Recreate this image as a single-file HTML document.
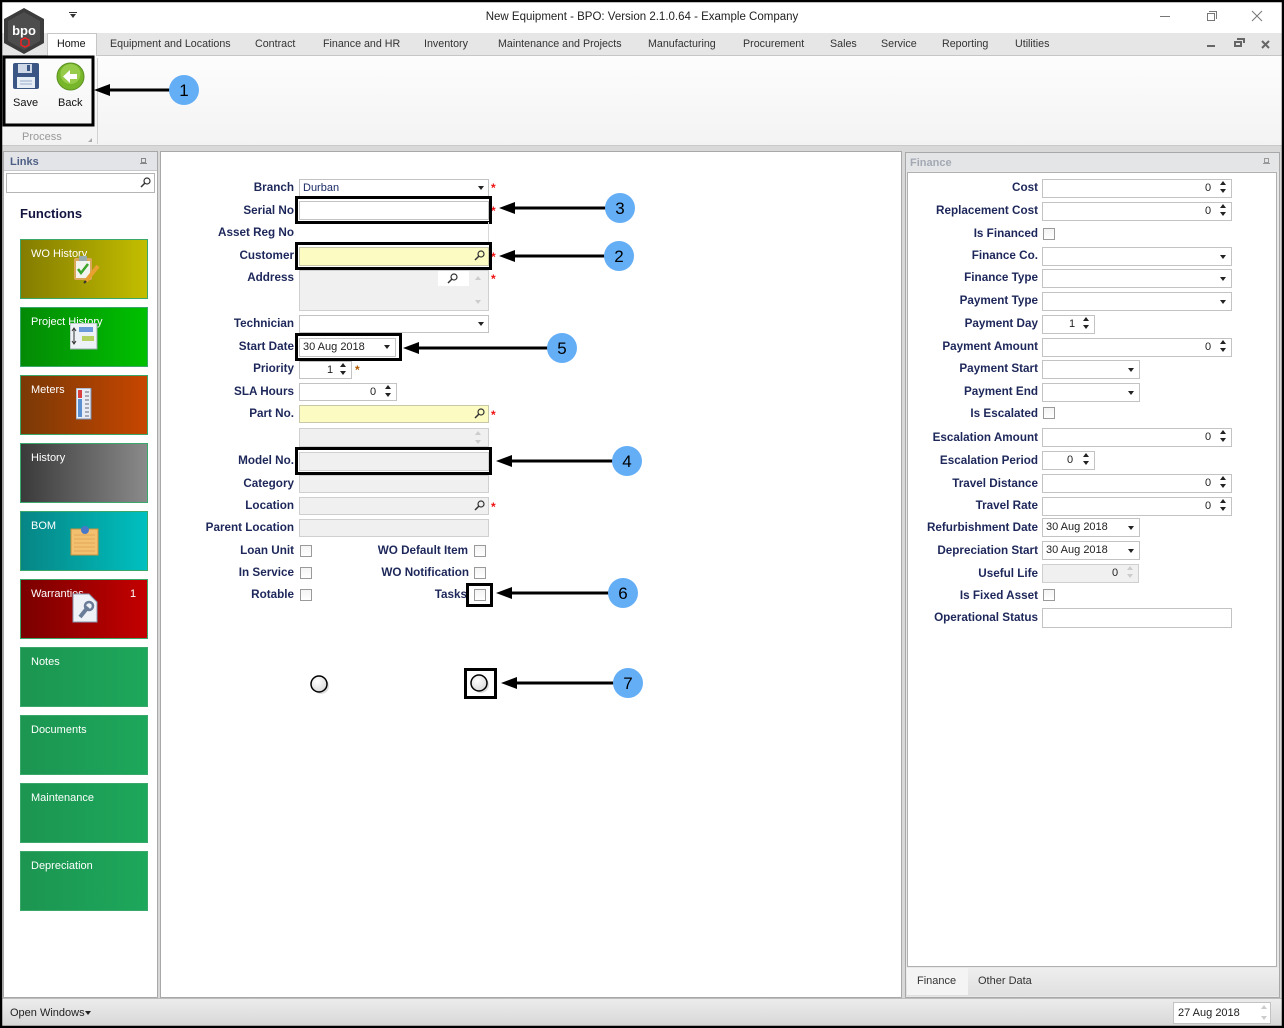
<!DOCTYPE html>
<html><head><meta charset="utf-8">
<style>
*{margin:0;padding:0;box-sizing:border-box}
html,body{width:1284px;height:1028px;overflow:hidden;background:#d8d8d8;font-family:"Liberation Sans",Arial,sans-serif}
.a{position:absolute}
.t{position:absolute;font-size:11px;color:#333;white-space:nowrap;line-height:14px}
.lb{position:absolute;font-size:11.7px;font-weight:bold;color:#1d275a;white-space:nowrap;line-height:14px;text-align:right}
.lc{left:150px;width:144px}
.lr{left:900px;width:138px}
.in{position:absolute;border:1px solid #c3c3c3;background:#fff}
.gr{background:#f0f0f0;border-color:#cfcfcf}
.ye{background:#fcfbc2;border-color:#c8c8a8}
.dd{position:absolute;width:0;height:0;border-left:3.5px solid transparent;border-right:3.5px solid transparent;border-top:4px solid #222}
.su{position:absolute;width:0;height:0;border-left:3.5px solid transparent;border-right:3.5px solid transparent;border-bottom:4px solid #222}
.sd{position:absolute;width:0;height:0;border-left:3.5px solid transparent;border-right:3.5px solid transparent;border-top:4px solid #222}
.cb{position:absolute;width:12px;height:12px;border:1px solid #9a9a9a;background:linear-gradient(#f4f4f4,#fff)}
.ast{position:absolute;color:#ee1111;font-size:12px;font-weight:bold;line-height:12px}
.box{position:absolute;border:3px solid #000}
.tile{position:absolute;left:20px;width:128px;height:60px;border:1px solid #3aa86a}
.tile span{position:absolute;left:10px;top:8px;color:#fff;font-size:11px;white-space:nowrap}
.tab{position:absolute;top:38px;font-size:10.7px;color:#333;white-space:nowrap}
.v{position:absolute;font-size:11px;color:#222;line-height:14px;white-space:nowrap}
</style></head><body>

<!-- title bar -->
<div class="a" style="left:0;top:0;width:1284px;height:33px;background:#fff"></div>
<div class="t" style="left:0;width:1284px;top:10px;text-align:center;font-size:11.5px;color:#222">New Equipment - BPO: Version 2.1.0.64 - Example Company</div>
<div class="dd" style="left:70px;top:14px;border-top-color:#333"></div>
<div class="a" style="left:69px;top:12px;width:8px;height:1px;background:#333"></div>
<div class="a" style="left:1160px;top:16px;width:10px;height:1px;background:#777"></div>
<div class="a" style="left:1207px;top:13px;width:8px;height:8px;border:1px solid #777"></div>
<div class="a" style="left:1209px;top:11px;width:8px;height:8px;border-top:1px solid #777;border-right:1px solid #777"></div>
<svg class="a" style="left:1251px;top:10px" width="12" height="12"><path d="M1 1L11 11M11 1L1 11" stroke="#777" stroke-width="1"/></svg>

<!-- tab strip -->
<div class="a" style="left:0;top:33px;width:1284px;height:23px;background:#e6e6e6;border-bottom:1px solid #c6c6c6"></div>
<div class="a" style="left:47px;top:33px;width:50px;height:24px;background:#fff;border:1px solid #c6c6c6;border-bottom:none"></div>
<div class="tab" style="left:57px;color:#111">Home</div>
<div class="tab" style="left:110px">Equipment and Locations</div>
<div class="tab" style="left:255px">Contract</div>
<div class="tab" style="left:323px">Finance and HR</div>
<div class="tab" style="left:424px">Inventory</div>
<div class="tab" style="left:498px">Maintenance and Projects</div>
<div class="tab" style="left:648px">Manufacturing</div>
<div class="tab" style="left:743px">Procurement</div>
<div class="tab" style="left:830px">Sales</div>
<div class="tab" style="left:881px">Service</div>
<div class="tab" style="left:942px">Reporting</div>
<div class="tab" style="left:1015px">Utilities</div>
<div class="a" style="left:1207px;top:45px;width:8px;height:2px;background:#666"></div>
<div class="a" style="left:1234px;top:41px;width:8px;height:6px;border:2px solid #666"></div>
<div class="a" style="left:1237px;top:38px;width:8px;height:5px;border-top:2px solid #666;border-right:2px solid #666"></div>
<svg class="a" style="left:1261px;top:40px" width="9" height="9"><path d="M1 1L8 8M8 1L1 8" stroke="#666" stroke-width="2"/></svg>

<!-- logo -->
<svg class="a" style="left:2px;top:7px" width="44" height="48">
<polygon points="22,1 42,12 42,36 22,47 2,36 2,12" fill="#3c3c3c"/>
<polygon points="22,5 38,14 38,34 22,43 6,34 6,14" fill="#4d4d4d"/>
<text x="22" y="28" font-family="Liberation Sans" font-size="13" font-weight="bold" fill="#fff" text-anchor="middle">bpo</text>
<polygon points="19,33 23,31 27,33 27,38 23,40 19,38" fill="none" stroke="#e22" stroke-width="1.5"/>
</svg>

<!-- ribbon -->
<div class="a" style="left:0;top:56px;width:1284px;height:90px;background:linear-gradient(#fdfdfd,#f3f3f3);border-bottom:1px solid #c9c9c9"></div>
<div class="a" style="left:97px;top:58px;width:1px;height:86px;background:#d2d2d2"></div>
<div class="t" style="left:22px;top:130px;color:#999">Process</div>
<div class="a" style="left:88px;top:138px;width:0;height:0;border-left:4px solid transparent;border-bottom:4px solid #aaa"></div>
<svg class="a" style="left:12px;top:62px" width="28" height="28">
<rect x="1" y="1" width="26" height="26" rx="2" fill="#3b5685"/>
<rect x="6" y="2" width="14" height="9" fill="#cfd8e6"/>
<rect x="15" y="3" width="3" height="6" fill="#3b5685"/>
<rect x="5" y="15" width="18" height="11" fill="#e7edf5"/>
<path d="M8 19H20M8 22H20" stroke="#9aaccc"/>
</svg>
<div class="t" style="left:13px;top:96px;color:#111">Save</div>
<svg class="a" style="left:56px;top:62px" width="29" height="29">
<circle cx="14.5" cy="14.5" r="13.5" fill="#77b52a" stroke="#5a9020"/>
<circle cx="14.5" cy="12" r="10" fill="#96cc4a"/>
<polygon points="7,14.5 14,8 14,12 21,12 21,17 14,17 14,21" fill="#fff"/>
</svg>
<div class="t" style="left:58px;top:96px;color:#111">Back</div>

<!-- left panel -->
<div class="a" style="left:3px;top:151px;width:155px;height:847px;background:#fff;border:1px solid #a8a8a8"></div>
<div class="a" style="left:4px;top:152px;width:153px;height:19px;background:#e3e4e7;border-bottom:1px solid #c8c8c8"></div>
<div class="t" style="left:10px;top:155px;font-weight:bold;color:#4e5f85">Links</div>
<div class="a" style="left:141px;top:158px;width:5px;height:5px;border:1px solid #888"></div>
<div class="a" style="left:140px;top:163px;width:7px;height:1px;background:#888"></div>
<div class="in" style="left:6px;top:173px;width:149px;height:20px;border-color:#b5b5b5"></div>
<svg class="a" style="left:140px;top:177px" width="11" height="11"><circle cx="7" cy="4" r="3" fill="none" stroke="#333" stroke-width="1.2"/><path d="M5 6L1 10" stroke="#333" stroke-width="1.5"/></svg>
<div class="t" style="left:20px;top:207px;font-size:13px;font-weight:bold;color:#131540">Functions</div>

<div class="tile" style="top:239px;background:linear-gradient(to right,#837c00,#c3be00)"><span>WO History</span></div>
<svg class="a" style="left:72px;top:254px" width="30" height="30"><rect x="2" y="4" width="18" height="22" rx="2" fill="#d9a85a"/><rect x="4" y="7" width="14" height="17" fill="#f4f4ee"/><rect x="7" y="2" width="8" height="5" fill="#9aa"/><path d="M6 15L9 19L16 10" stroke="#3aa52a" stroke-width="2.5" fill="none"/><path d="M26 12L14 27" stroke="#e8a030" stroke-width="4"/><path d="M14 27L12 29" stroke="#333" stroke-width="2"/></svg>
<div class="tile" style="top:307px;background:linear-gradient(to right,#048a06,#00c000)"><span>Project History</span></div>
<svg class="a" style="left:70px;top:323px" width="28" height="27"><rect x="0" y="0" width="27" height="26" fill="#eef1f5" stroke="#9aa"/><rect x="9" y="4" width="14" height="5" fill="#6a9ad8"/><rect x="12" y="13" width="12" height="5" fill="#b8d060"/><path d="M4 6V20M2 8L4 5L6 8M2 18L4 21L6 18" stroke="#333" fill="none"/></svg>
<div class="tile" style="top:375px;background:linear-gradient(to right,#7a3906,#c74600)"><span>Meters</span></div>
<svg class="a" style="left:76px;top:388px" width="16" height="32"><rect x="0" y="0" width="15" height="31" fill="#e9eef6" stroke="#7a90b0"/><rect x="2" y="2" width="4" height="8" fill="#d84040"/><rect x="2" y="11" width="4" height="18" fill="#5a90d0"/><path d="M9 4H13M9 8H13M9 12H13M9 16H13M9 20H13M9 24H13M9 28H13" stroke="#667"/></svg>
<div class="tile" style="top:443px;background:linear-gradient(to right,#3a3a3a,#8a8a8a)"><span>History</span></div>
<div class="tile" style="top:511px;background:linear-gradient(to right,#078585,#00c0c0)"><span>BOM</span></div>
<svg class="a" style="left:70px;top:525px" width="30" height="31"><rect x="1" y="4" width="27" height="26" fill="#f3c070" stroke="#c8903a"/><path d="M4 10H25M4 14H25M4 18H25M4 22H25M4 26H25" stroke="#e3a858"/><circle cx="15" cy="5" r="4" fill="#4a78c8"/></svg>
<div class="tile" style="top:579px;background:linear-gradient(to right,#7a0000,#c40000)"><span>Warranties</span><span style="left:109px">1</span></div>
<svg class="a" style="left:72px;top:593px" width="27" height="31"><path d="M1 1H17L25 9V29H1Z" fill="#eef1f6" stroke="#8898b0"/><path d="M8 24L16 14" stroke="#6a7c98" stroke-width="4"/><circle cx="17" cy="13" r="4" fill="none" stroke="#6a7c98" stroke-width="2.5"/></svg>
<div class="tile" style="top:647px;background:linear-gradient(to right,#1c9550,#1da85c)"><span>Notes</span></div>
<div class="tile" style="top:715px;background:linear-gradient(to right,#1c9550,#1da85c)"><span>Documents</span></div>
<div class="tile" style="top:783px;background:linear-gradient(to right,#1c9550,#1da85c)"><span>Maintenance</span></div>
<div class="tile" style="top:851px;background:linear-gradient(to right,#1c9550,#1da85c)"><span>Depreciation</span></div>

<!-- center panel -->
<div class="a" style="left:160px;top:151px;width:742px;height:847px;background:#fff;border:1px solid #a8a8a8"></div>

<div class="lb lc" style="top:181px">Branch</div>
<div class="in" style="left:299px;top:179px;width:190px;height:18px"></div>
<div class="v" style="left:303px;top:181px;color:#1a2a66">Durban</div>
<div class="dd" style="left:478px;top:186px"></div>
<div class="ast" style="left:491px;top:182px">*</div>

<div class="lb lc" style="top:204px">Serial No</div>
<div class="in" style="left:299px;top:201px;width:190px;height:19px"></div>
<div class="ast" style="left:491px;top:205px">*</div>
<div class="box" style="left:295px;top:196px;width:197px;height:28px"></div>

<div class="lb lc" style="top:226px">Asset Reg No</div>
<div class="a" style="left:488px;top:222px;width:1px;height:20px;background:#d8d8d8"></div>

<div class="lb lc" style="top:249px">Customer</div>
<div class="in ye" style="left:299px;top:247px;width:190px;height:19px"></div>
<svg class="a" style="left:474px;top:250px" width="11" height="11"><circle cx="7" cy="4" r="3" fill="none" stroke="#333" stroke-width="1.2"/><path d="M5 6L1 10" stroke="#333" stroke-width="1.5"/></svg>
<div class="ast" style="left:491px;top:251px">*</div>
<div class="box" style="left:295px;top:242px;width:197px;height:28px"></div>

<div class="lb lc" style="top:271px">Address</div>
<div class="in gr" style="left:299px;top:270px;width:190px;height:41px"></div>
<div class="a" style="left:438px;top:271px;width:31px;height:15px;background:#fff"></div>
<svg class="a" style="left:447px;top:273px" width="11" height="11"><circle cx="7" cy="4" r="3" fill="none" stroke="#333" stroke-width="1.2"/><path d="M5 6L1 10" stroke="#333" stroke-width="1.5"/></svg>
<div class="su" style="left:475px;top:276px;border-bottom-color:#ccc"></div>
<div class="sd" style="left:475px;top:300px;border-top-color:#ccc"></div>
<div class="ast" style="left:491px;top:273px">*</div>

<div class="lb lc" style="top:317px">Technician</div>
<div class="in" style="left:299px;top:315px;width:190px;height:18px"></div>
<div class="dd" style="left:478px;top:322px"></div>

<div class="lb lc" style="top:340px">Start Date</div>
<div class="in" style="left:299px;top:338px;width:97px;height:19px"></div>
<div class="v" style="left:303px;top:340px">30 Aug 2018</div>
<div class="dd" style="left:384px;top:345px"></div>
<div class="box" style="left:295px;top:333px;width:107px;height:28px"></div>

<div class="lb lc" style="top:362px">Priority</div>
<div class="in" style="left:299px;top:361px;width:53px;height:18px"></div>
<div class="v" style="left:327px;top:363px">1</div>
<div class="su" style="left:340px;top:363px"></div>
<div class="sd" style="left:340px;top:371px"></div>
<div class="ast" style="left:355px;top:364px;color:#b05a00">*</div>

<div class="lb lc" style="top:385px">SLA Hours</div>
<div class="in" style="left:299px;top:383px;width:98px;height:18px"></div>
<div class="v" style="left:370px;top:385px">0</div>
<div class="su" style="left:385px;top:385px"></div>
<div class="sd" style="left:385px;top:393px"></div>

<div class="lb lc" style="top:407px">Part No.</div>
<div class="in ye" style="left:299px;top:405px;width:190px;height:18px"></div>
<svg class="a" style="left:474px;top:408px" width="11" height="11"><circle cx="7" cy="4" r="3" fill="none" stroke="#333" stroke-width="1.2"/><path d="M5 6L1 10" stroke="#333" stroke-width="1.5"/></svg>
<div class="ast" style="left:491px;top:409px">*</div>

<div class="in gr" style="left:299px;top:428px;width:190px;height:19px"></div>
<div class="su" style="left:475px;top:431px;border-bottom-color:#ccc"></div>
<div class="sd" style="left:475px;top:440px;border-top-color:#ccc"></div>

<div class="lb lc" style="top:454px">Model No.</div>
<div class="in gr" style="left:299px;top:452px;width:190px;height:19px"></div>
<div class="box" style="left:295px;top:447px;width:197px;height:28px"></div>

<div class="lb lc" style="top:477px">Category</div>
<div class="in gr" style="left:299px;top:475px;width:190px;height:18px"></div>

<div class="lb lc" style="top:499px">Location</div>
<div class="in gr" style="left:299px;top:497px;width:190px;height:18px"></div>
<svg class="a" style="left:474px;top:500px" width="11" height="11"><circle cx="7" cy="4" r="3" fill="none" stroke="#333" stroke-width="1.2"/><path d="M5 6L1 10" stroke="#333" stroke-width="1.5"/></svg>
<div class="ast" style="left:491px;top:501px">*</div>

<div class="lb lc" style="top:521px">Parent Location</div>
<div class="in gr" style="left:299px;top:519px;width:190px;height:18px"></div>

<div class="lb lc" style="top:544px">Loan Unit</div>
<div class="cb" style="left:300px;top:545px"></div>
<div class="lb" style="left:330px;width:138px;top:544px">WO Default Item</div>
<div class="cb" style="left:474px;top:545px"></div>
<div class="lb lc" style="top:566px">In Service</div>
<div class="cb" style="left:300px;top:567px"></div>
<div class="lb" style="left:330px;width:139px;top:566px">WO Notification</div>
<div class="cb" style="left:474px;top:567px"></div>
<div class="lb lc" style="top:588px">Rotable</div>
<div class="cb" style="left:300px;top:589px"></div>
<div class="lb" style="left:330px;width:137px;top:588px">Tasks</div>
<div class="cb" style="left:474px;top:589px"></div>
<div class="box" style="left:466px;top:583px;width:27px;height:24px"></div>

<div class="box" style="left:464px;top:668px;width:33px;height:31px"></div>

<!-- right panel -->
<div class="a" style="left:905px;top:152px;width:375px;height:846px;background:#e8e8e8;border:1px solid #a8a8a8"></div>
<div class="a" style="left:906px;top:153px;width:373px;height:18px;background:#e4e5e7"></div>
<div class="t" style="left:910px;top:156px;font-weight:bold;color:#a3a9b3">Finance</div>
<div class="a" style="left:1264px;top:158px;width:5px;height:5px;border:1px solid #999"></div>
<div class="a" style="left:1263px;top:163px;width:7px;height:1px;background:#999"></div>
<div class="a" style="left:907px;top:172px;width:370px;height:795px;background:#fff;border:1px solid #b0b0b0"></div>
<div class="a" style="left:906px;top:968px;width:373px;height:28px;background:linear-gradient(#eeeeee,#e0e0e0)"></div>
<div class="a" style="left:907px;top:968px;width:61px;height:27px;background:#f4f4f4"></div>
<div class="t" style="left:917px;top:974px">Finance</div>
<div class="t" style="left:978px;top:974px">Other Data</div>

<div class="lb lr" style="top:181px">Cost</div>
<div class="in" style="left:1042px;top:179px;width:190px;height:19px"></div>
<div class="v" style="left:1205px;top:181px">0</div><div class="su" style="left:1220px;top:181px"></div><div class="sd" style="left:1220px;top:189px"></div>

<div class="lb lr" style="top:204px">Replacement Cost</div>
<div class="in" style="left:1042px;top:202px;width:190px;height:19px"></div>
<div class="v" style="left:1205px;top:204px">0</div><div class="su" style="left:1220px;top:204px"></div><div class="sd" style="left:1220px;top:212px"></div>

<div class="lb lr" style="top:227px">Is Financed</div>
<div class="cb" style="left:1043px;top:228px"></div>

<div class="lb lr" style="top:249px">Finance Co.</div>
<div class="in" style="left:1042px;top:247px;width:190px;height:19px"></div>
<div class="dd" style="left:1220px;top:255px"></div>

<div class="lb lr" style="top:271px">Finance Type</div>
<div class="in" style="left:1042px;top:269px;width:190px;height:19px"></div>
<div class="dd" style="left:1220px;top:277px"></div>

<div class="lb lr" style="top:294px">Payment Type</div>
<div class="in" style="left:1042px;top:292px;width:190px;height:19px"></div>
<div class="dd" style="left:1220px;top:300px"></div>

<div class="lb lr" style="top:317px">Payment Day</div>
<div class="in" style="left:1042px;top:315px;width:53px;height:19px"></div>
<div class="v" style="left:1069px;top:317px">1</div><div class="su" style="left:1083px;top:317px"></div><div class="sd" style="left:1083px;top:325px"></div>

<div class="lb lr" style="top:340px">Payment Amount</div>
<div class="in" style="left:1042px;top:338px;width:190px;height:19px"></div>
<div class="v" style="left:1205px;top:340px">0</div><div class="su" style="left:1220px;top:340px"></div><div class="sd" style="left:1220px;top:348px"></div>

<div class="lb lr" style="top:362px">Payment Start</div>
<div class="in" style="left:1042px;top:360px;width:98px;height:19px"></div>
<div class="dd" style="left:1128px;top:368px"></div>

<div class="lb lr" style="top:385px">Payment End</div>
<div class="in" style="left:1042px;top:383px;width:98px;height:19px"></div>
<div class="dd" style="left:1128px;top:391px"></div>

<div class="lb lr" style="top:407px">Is Escalated</div>
<div class="cb" style="left:1043px;top:407px"></div>

<div class="lb lr" style="top:431px">Escalation Amount</div>
<div class="in" style="left:1042px;top:428px;width:190px;height:19px"></div>
<div class="v" style="left:1205px;top:430px">0</div><div class="su" style="left:1220px;top:430px"></div><div class="sd" style="left:1220px;top:438px"></div>

<div class="lb lr" style="top:454px">Escalation Period</div>
<div class="in" style="left:1042px;top:451px;width:53px;height:19px"></div>
<div class="v" style="left:1067px;top:453px">0</div><div class="su" style="left:1083px;top:453px"></div><div class="sd" style="left:1083px;top:461px"></div>

<div class="lb lr" style="top:477px">Travel Distance</div>
<div class="in" style="left:1042px;top:474px;width:190px;height:19px"></div>
<div class="v" style="left:1205px;top:476px">0</div><div class="su" style="left:1220px;top:476px"></div><div class="sd" style="left:1220px;top:484px"></div>

<div class="lb lr" style="top:499px">Travel Rate</div>
<div class="in" style="left:1042px;top:497px;width:190px;height:19px"></div>
<div class="v" style="left:1205px;top:499px">0</div><div class="su" style="left:1220px;top:499px"></div><div class="sd" style="left:1220px;top:507px"></div>

<div class="lb lr" style="top:521px">Refurbishment Date</div>
<div class="in" style="left:1042px;top:518px;width:98px;height:19px"></div>
<div class="v" style="left:1046px;top:520px">30 Aug 2018</div>
<div class="dd" style="left:1128px;top:526px"></div>

<div class="lb lr" style="top:544px">Depreciation Start</div>
<div class="in" style="left:1042px;top:541px;width:98px;height:19px"></div>
<div class="v" style="left:1046px;top:543px">30 Aug 2018</div>
<div class="dd" style="left:1128px;top:549px"></div>

<div class="lb lr" style="top:567px">Useful Life</div>
<div class="in gr" style="left:1042px;top:564px;width:97px;height:19px"></div>
<div class="v" style="left:1112px;top:566px">0</div><div class="su" style="left:1127px;top:566px;border-bottom-color:#ccc"></div><div class="sd" style="left:1127px;top:574px;border-top-color:#ccc"></div>

<div class="lb lr" style="top:589px">Is Fixed Asset</div>
<div class="cb" style="left:1043px;top:589px"></div>

<div class="lb lr" style="top:611px">Operational Status</div>
<div class="in" style="left:1042px;top:608px;width:190px;height:20px"></div>

<!-- status bar -->
<div class="a" style="left:0;top:998px;width:1284px;height:30px;background:linear-gradient(#ececec,#d6d6d6);border-top:1px solid #bdbdbd"></div>
<div class="t" style="left:10px;top:1006px;color:#222">Open Windows</div>
<div class="dd" style="left:85px;top:1011px;border-left-width:3px;border-right-width:3px;border-top-width:4px"></div>
<div class="in" style="left:1173px;top:1002px;width:98px;height:22px"></div>
<div class="v" style="left:1178px;top:1006px">27 Aug 2018</div>
<div class="su" style="left:1261px;top:1005px;border-bottom-color:#ccc"></div><div class="sd" style="left:1261px;top:1016px;border-top-color:#ccc"></div>

<!-- annotation overlay -->
<svg class="a" style="left:0;top:0" width="1284" height="1028">
<defs>
<radialGradient id="rg" cx="40%" cy="35%" r="70%"><stop offset="0" stop-color="#fff"/><stop offset="1" stop-color="#d8d8d8"/></radialGradient>
</defs>
<rect x="4" y="57" width="89" height="68" fill="none" stroke="#000" stroke-width="3"/>
<g stroke="#000" stroke-width="3">
<line x1="106" y1="90" x2="170" y2="90"/>
<line x1="511" y1="208" x2="606" y2="208"/>
<line x1="511" y1="256" x2="605" y2="256"/>
<line x1="416" y1="348" x2="548" y2="348"/>
<line x1="508" y1="461" x2="613" y2="461"/>
<line x1="508" y1="593" x2="609" y2="593"/>
<line x1="513" y1="683" x2="614" y2="683"/>
</g>
<g fill="#000">
<polygon points="94,90 110,84 110,96"/>
<polygon points="499,208 515,202 515,214"/>
<polygon points="499,256 515,250 515,262"/>
<polygon points="403,348 419,342 419,354"/>
<polygon points="496,461 512,455 512,467"/>
<polygon points="496,593 512,587 512,599"/>
<polygon points="501,683 517,677 517,689"/>
</g>
<g fill="#64aef6">
<circle cx="184" cy="90" r="15"/>
<circle cx="620" cy="208" r="15"/>
<circle cx="619" cy="256" r="15"/>
<circle cx="562" cy="348" r="15"/>
<circle cx="627" cy="461" r="15"/>
<circle cx="623" cy="593" r="15"/>
<circle cx="628" cy="683" r="15"/>
</g>
<g font-family="Liberation Sans" font-size="17" fill="#000" text-anchor="middle">
<text x="184" y="96">1</text>
<text x="620" y="214">3</text>
<text x="619" y="262">2</text>
<text x="562" y="354">5</text>
<text x="627" y="467">4</text>
<text x="623" y="599">6</text>
<text x="628" y="689">7</text>
</g>
<circle cx="321" cy="686" r="8" fill="#bbb" opacity="0.5"/>
<circle cx="319" cy="684" r="8" fill="url(#rg)" stroke="#000" stroke-width="1.5"/>
<circle cx="481" cy="685" r="8" fill="#bbb" opacity="0.5"/>
<circle cx="479" cy="683" r="8" fill="url(#rg)" stroke="#000" stroke-width="1.5"/>
<rect x="1" y="1" width="1282" height="1026" fill="none" stroke="#000" stroke-width="2.5"/>
</svg>
</body></html>
